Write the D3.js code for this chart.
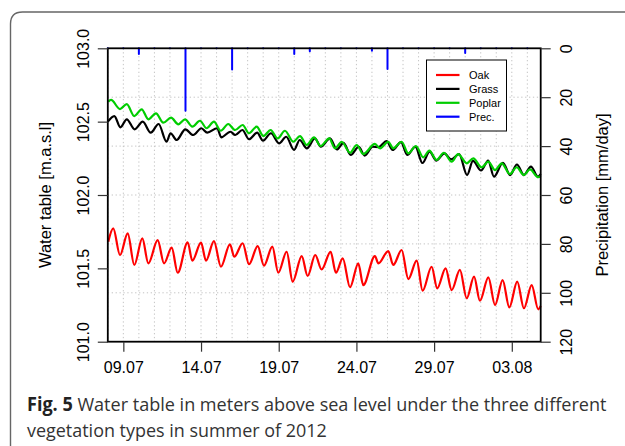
<!DOCTYPE html>
<html>
<head>
<meta charset="utf-8">
<script src="https://cdn.jsdelivr.net/npm/d3@7"></script>
<style>
  body { margin: 0; background: #fff; }
  svg { display: block; }
</style>
</head>
<body>
<svg id="chart" width="625" height="446"></svg>
<script>
// days since 08.07.2012 00:00, water table [m a.s.l.]
const oak = [
  [0.03,101.682],[0.35,101.773],[0.785,101.591],[1.28,101.739],[1.705,101.523],[2.22,101.705],
  [2.61,101.534],[3.21,101.693],[3.62,101.534],[4.11,101.641],[4.50,101.470],[5.14,101.678],
  [5.44,101.552],[6.00,101.675],[6.32,101.552],[6.83,101.686],[7.28,101.511],[7.86,101.664],
  [8.14,101.579],[8.68,101.671],[9.09,101.528],[9.65,101.652],[10.05,101.518],[10.59,101.648],
  [10.97,101.470],[11.51,101.613],[11.90,101.409],[12.48,101.584],[12.86,101.448],[13.35,101.591],
  [13.76,101.492],[14.34,101.613],[14.68,101.470],[15.12,101.568],[15.59,101.371],[16.12,101.534],
  [16.44,101.386],[17.19,101.584],[17.41,101.534],[18.05,101.618],[18.37,101.523],[18.91,101.625],
  [19.34,101.427],[19.88,101.552],[20.26,101.348],[20.84,101.511],[21.20,101.364],[21.74,101.500],
  [22.13,101.352],[22.66,101.489],[23.10,101.296],[23.57,101.443],[23.95,101.279],[24.49,101.439],
  [24.92,101.250],[25.41,101.420],[25.84,101.234],[26.35,101.409],[26.78,101.228],[27.28,101.386],
  [27.70,101.221],[27.86,101.243]
];

const grass = [
  [0.00,102.500],[0.42,102.538],[0.81,102.461],[1.22,102.516],[1.73,102.448],[2.25,102.500],
  [2.76,102.425],[3.27,102.484],[3.78,102.363],[4.04,102.421],[4.43,102.375],[4.99,102.448],
  [5.50,102.409],[6.02,102.455],[6.40,102.425],[7.04,102.455],[7.30,102.393],[7.89,102.431],
  [8.20,102.409],[8.66,102.443],[9.09,102.380],[9.61,102.425],[9.99,102.370],[10.50,102.421],
  [11.02,102.352],[11.48,102.397],[11.99,102.307],[12.35,102.375],[12.81,102.318],[13.33,102.386],
  [13.71,102.329],[14.30,102.386],[14.74,102.310],[15.17,102.356],[15.63,102.273],[16.15,102.329],
  [16.53,102.269],[17.05,102.329],[17.43,102.327],[17.94,102.368],[18.33,102.307],[18.87,102.361],
  [19.27,102.273],[19.79,102.329],[20.25,102.218],[20.71,102.295],[21.15,102.235],[21.66,102.284],
  [22.10,102.243],[22.61,102.279],[23.12,102.136],[23.50,102.232],[24.02,102.167],[24.48,102.235],
  [24.85,102.125],[25.43,102.220],[25.89,102.136],[26.33,102.208],[26.78,102.136],[27.23,102.194],
  [27.69,102.125],[27.86,102.143]
];

const poplar = [
  [0.03,102.636],[0.21,102.648],[0.785,102.586],[1.22,102.620],[1.705,102.538],[2.18,102.584],
  [2.61,102.516],[3.10,102.557],[3.57,102.493],[4.07,102.527],[4.54,102.482],[4.97,102.516],
  [5.44,102.466],[5.93,102.506],[6.36,102.455],[6.83,102.500],[7.27,102.438],[7.75,102.484],
  [8.19,102.443],[8.68,102.477],[9.09,102.421],[9.58,102.466],[10.01,102.402],[10.48,102.443],
  [10.93,102.386],[11.40,102.438],[11.94,102.363],[12.37,102.402],[12.80,102.341],[13.27,102.393],
  [13.70,102.334],[14.25,102.386],[14.62,102.318],[15.05,102.363],[15.59,102.288],[16.02,102.341],
  [16.44,102.279],[17.19,102.348],[17.52,102.318],[18.05,102.363],[18.37,102.318],[18.91,102.363],
  [19.34,102.284],[19.83,102.334],[20.30,102.257],[20.69,102.302],[21.16,102.239],[21.63,102.288],
  [22.13,102.227],[22.55,102.279],[23.10,102.216],[23.52,102.250],[24.06,102.189],[24.49,102.227],
  [24.92,102.170],[25.35,102.216],[25.88,102.143],[26.31,102.189],[26.78,102.136],[27.17,102.175],
  [27.70,102.121],[27.86,102.130]
];

// daily precipitation [mm/day], 08.07 .. 04.08
const precip = [0, 0, 2.3, 0, 0, 25.5, 0, 0, 8.7, 0, 0, 0, 2.3, 1.2,
                0, 0, 0, 1.0, 8.5, 0, 0, 0, 0, 1.9, 0, 0, 0, 0];

const xTickLabels = ["09.07", "14.07", "19.07", "24.07", "29.07", "03.08"];
const yLeftTicks = [101.0, 101.5, 102.0, 102.5, 103.0];
const yRightTicks = [0, 20, 40, 60, 80, 100, 120];
const yGridTicks = [20, 40, 60, 80, 100];

const seriesNames = ["Oak", "Grass", "Poplar", "Prec."];
const seriesColors = ["#ff0000", "#000000", "#00cd00", "#0000ff"];

const startDate = new Date(2012, 6, 8);
const DAY = 864e5;
const toDate = d => new Date(+startDate + d * DAY);
const parseTick = d3.timeParse("%d.%m.%Y");

const svg = d3.select("#chart");
const FONT = "'Liberation Sans', Arial, Helvetica, sans-serif";

const L = 107.8, R = 540.7, T = 48.3, B = 341.7;

const x = d3.scaleTime().domain([startDate, toDate(27.86)]).range([L, R]);
const y = d3.scaleLinear().domain([101, 103]).range([B, T]);
const yp = d3.scaleLinear().domain([0, 120]).range([T, B]);

// outer frame of the figure panel
svg.append("path")
  .attr("d", "M10.5,446 V24 Q10.5,12 22.5,12 H625")
  .attr("fill", "none")
  .attr("stroke", "#666")
  .attr("stroke-width", 1.4);

// grid
const grid = svg.append("g").attr("class", "grid")
  .attr("stroke", "#c4c4c4")
  .attr("stroke-width", 1)
  .attr("stroke-dasharray", "1.3,2.6");

grid.selectAll(".vgrid")
  .data(d3.timeDay.range(startDate, toDate(27.86)))
  .join("line")
    .attr("class", "vgrid")
    .attr("x1", d => x(d)).attr("x2", d => x(d))
    .attr("y1", T).attr("y2", B);

grid.selectAll(".hgrid")
  .data(yGridTicks)
  .join("line")
    .attr("class", "hgrid")
    .attr("x1", L).attr("x2", R)
    .attr("y1", d => yp(d)).attr("y2", d => yp(d));

// precipitation bars hanging from the top
svg.append("g").attr("class", "precip")
  .selectAll("line")
  .data(precip)
  .join("line")
    .attr("x1", (d, i) => x(toDate(i)))
    .attr("x2", (d, i) => x(toDate(i)))
    .attr("y1", yp(0))
    .attr("y2", d => yp(d))
    .attr("stroke", seriesColors[3])
    .attr("stroke-width", 2)
    .attr("stroke-linecap", "round");

// water table lines
const line = d3.line()
  .x(d => x(toDate(d[0])))
  .y(d => y(d[1]))
  .curve(d3.curveMonotoneX);

svg.append("g").attr("class", "lines")
  .selectAll("path")
  .data([oak, grass, poplar])
  .join("path")
    .attr("d", line)
    .attr("fill", "none")
    .attr("stroke", (d, i) => seriesColors[i])
    .attr("stroke-width", 2.2)
    .attr("stroke-linejoin", "round");

// plot box
svg.append("rect")
  .attr("x", L).attr("y", T)
  .attr("width", R - L).attr("height", B - T)
  .attr("fill", "none")
  .attr("stroke", "#000")
  .attr("stroke-width", 1.8);

// axes
function styleAxis(g) {
  g.select(".domain").remove();
  g.selectAll(".tick line").attr("stroke", "#333").attr("stroke-width", 1.2);
  g.selectAll(".tick text")
    .attr("fill", "#000")
    .style("font-family", FONT)
    .style("font-size", "16px");
}

svg.append("g")
  .attr("transform", `translate(${L},0)`)
  .call(d3.axisLeft(y).tickValues(yLeftTicks).tickFormat(d3.format(".1f")).tickSize(10))
  .call(styleAxis)
  .call(g => g.selectAll(".tick text")
    .attr("transform", "rotate(-90)")
    .attr("x", 0)
    .attr("y", -24.5)
    .attr("dy", "0.35em")
    .attr("text-anchor", "middle"));

svg.append("g")
  .attr("transform", `translate(${R},0)`)
  .call(d3.axisRight(yp).tickValues(yRightTicks).tickSize(10))
  .call(styleAxis)
  .call(g => g.selectAll(".tick text")
    .attr("transform", "rotate(-90)")
    .attr("x", 0)
    .attr("y", 26)
    .attr("dy", "0.35em")
    .attr("text-anchor", "middle"));

svg.append("g")
  .attr("transform", `translate(0,${B})`)
  .call(d3.axisBottom(x)
    .tickValues(xTickLabels.map(s => parseTick(s + ".2012")))
    .tickFormat(d3.timeFormat("%d.%m"))
    .tickSize(10)
    .tickPadding(10))
  .call(styleAxis);

// axis titles
svg.append("text")
  .attr("transform", `translate(51,${(T + B) / 2}) rotate(-90)`)
  .attr("text-anchor", "middle")
  .style("font-family", FONT)
  .style("font-size", "16.5px")
  .text("Water table [m.a.s.l]");

svg.append("text")
  .attr("transform", `translate(607.5,${(T + B) / 2}) rotate(-90)`)
  .attr("text-anchor", "middle")
  .style("font-family", FONT)
  .style("font-size", "16.5px")
  .text("Precipitation [mm/day]");

// legend
const legend = svg.append("g").attr("transform", "translate(426.5,60)");
legend.append("rect")
  .attr("width", 80).attr("height", 71)
  .attr("fill", "#fff")
  .attr("stroke", "#000")
  .attr("stroke-width", 1);

const items = legend.selectAll(".item")
  .data(seriesNames)
  .join("g")
    .attr("class", "item")
    .attr("transform", (d, i) => `translate(0,${15 + i * 13.9})`);
items.append("line")
  .attr("x1", 9.5).attr("x2", 33)
  .attr("stroke", (d, i) => seriesColors[i])
  .attr("stroke-width", 2.2);
items.append("text")
  .attr("x", 42.5)
  .attr("dy", "0.36em")
  .style("font-family", FONT)
  .style("font-size", "11px")
  .text(d => d);

// caption: natural text squeezed horizontally to the reference width
const caption = svg.append("g")
  .style("font-family", "'Open Sans', 'Noto Sans', sans-serif")
  .style("font-size", "19px")
  .attr("fill", "#333");

function fitLine(textSel, x0, y0, width) {
  const w = textSel.node().getComputedTextLength();
  textSel.attr("transform", `translate(${x0},${y0}) scale(${width / w},1)`);
}

const cap1 = caption.append("text");
cap1.append("tspan").attr("font-weight", "bold").attr("fill", "#222").text("Fig. 5");
cap1.append("tspan").text(" Water table in meters above sea level under the three different");
fitLine(cap1, 27, 410.7, 580);

const cap2 = caption.append("text").text("vegetation types in summer of 2012");
fitLine(cap2, 27, 437.3, 300);
</script>
</body>
</html>
